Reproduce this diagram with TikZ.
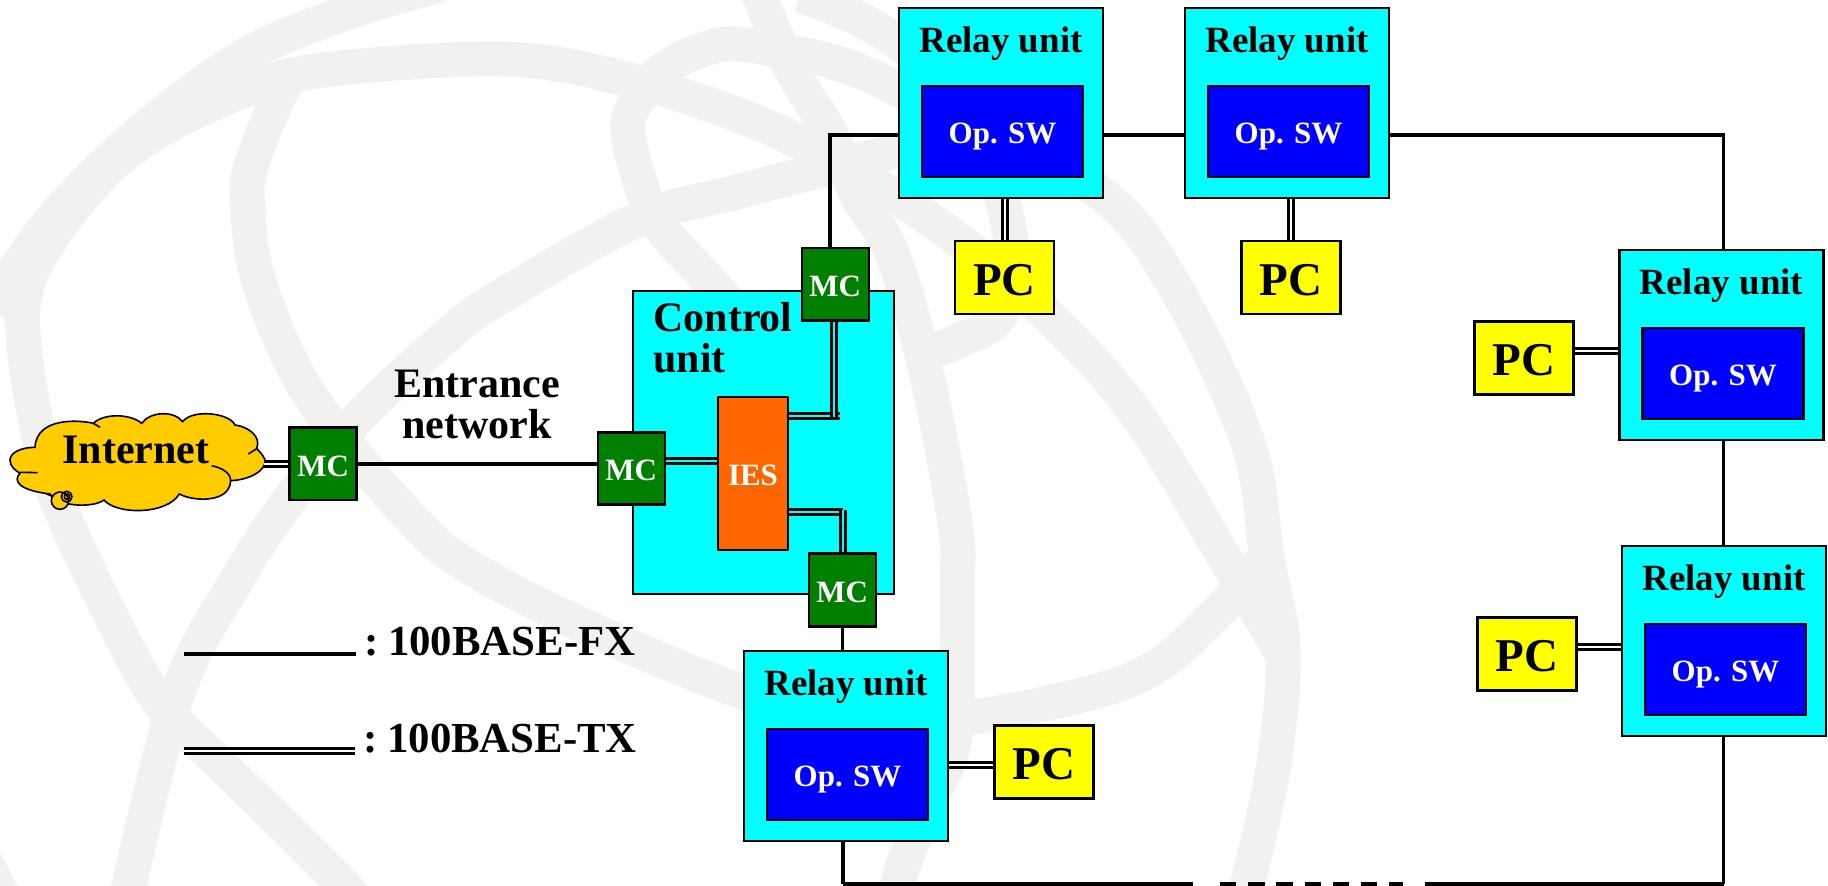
\documentclass[tikz,border=0pt]{standalone}
\usepackage{fontspec}
\setmainfont{Liberation Serif}
\usepackage{xcolor}
\usetikzlibrary{positioning}
\definecolor{wmgrey}{HTML}{F2F1EF}
\definecolor{mcgreen}{HTML}{007F00}
\definecolor{iesorange}{HTML}{FF6600}
\definecolor{cloudgold}{HTML}{FFCC00}
\definecolor{unitcyan}{HTML}{00FFFF}
\definecolor{swblue}{HTML}{0000FF}
\definecolor{pcyellow}{HTML}{FFFF00}

\begin{document}
\begin{tikzpicture}[
  x=0.5pt, y=-0.5pt,
  wm/.style={draw=wmgrey, line width=17.5pt, smooth, tension=0.6},
  relay/.style={draw, fill=unitcyan, line width=1.2pt, minimum width=102pt, minimum height=95pt, inner sep=0pt},
  opsw/.style={draw, fill=swblue, line width=1.2pt, minimum width=80.5pt, minimum height=45.5pt, inner sep=0pt, text=white, font=\fontsize{15.5}{18}\selectfont\bfseries, text height=12.4pt, text depth=0pt},
  title/.style={anchor=base, inner sep=0pt, font=\fontsize{18.5}{22}\selectfont\bfseries},
  pcbox/.style={draw, fill=pcyellow, line width=1.2pt, minimum width=49.5pt, minimum height=36.5pt, inner sep=0pt, font=\fontsize{23.5}{27}\selectfont\bfseries, text height=18pt, text depth=0pt},
  mcbox/.style={draw, fill=mcgreen, line width=1.3pt, minimum width=33.5pt, minimum height=36.25pt, inner sep=0pt, text=white, font=\fontsize{15.5}{18}\selectfont\bfseries, text height=12.4pt, text depth=0pt},
  lbl/.style={inner sep=0pt, font=\fontsize{21}{20.5}\selectfont\bfseries},
  legend/.style={inner sep=0pt, anchor=base west, font=\fontsize{21.4}{24}\selectfont\bfseries},
  fx/.style={line width=1.75pt},
  tx/.style={line width=1.5pt, double=white, double distance=1pt},
  txc/.style={tx, double=unitcyan}
]
\useasboundingbox (0,0) rectangle (1828,886);

\begin{scope}
\clip (0,0) rectangle (1828,886);
\draw[wm] plot coordinates {(440,-15) (340,15) (243,57) (145,128) (62,208) (15,270) (-10,310)};
\draw[wm] plot coordinates {(-16,860) (3,895)};
\draw[wm] plot coordinates {(1280,650) (1223,555) (1135,412) (1042,310) (935,223) (830,158) (733,113) (610,75) (500,59) (333,69) (245,90) (130,150) (50,240) (23,310) (35,417) (60,507) (132,657) (172,717) (230,773) (344,886) (370,920)};
\draw[wm] plot coordinates {(295,70) (277,100) (250,170) (248,207) (255,267) (283,345) (325,417) (413,520) (470,567) (588,628) (740,691) (850,722) (955,720) (1130,680) (1220,610) (1270,550)};
\draw[wm] plot coordinates {(126,900) (178,693) (235,583) (287,503) (353,423) (450,333) (500,297) (637,220) (733,193) (830,168) (900,150)};
\draw[wm] plot coordinates {(790,380) (720,293) (665,233) (647,203) (628,133) (637,100) (660,72) (702,50) (747,45) (857,70) (970,130) (1103,195) (1178,292) (1248,443) (1267,557) (1283,650) (1274,763) (1248,883) (1240,910)};
\draw[wm] plot coordinates {(757,-10) (790,67) (830,133) (858,197) (892,253) (925,367) (955,523) (957,590) (955,735) (930,800) (905,860) (895,895)};
\draw[wm] plot coordinates {(800,-5) (867,23) (930,70) (985,150) (1012,250) (1000,315) (960,340) (915,358)};
\end{scope}

\begin{scope}[shift={(0,390)}, x=1/6*1pt, y=-1/6*1pt]
\draw[fill=cloudgold, line width=0.8pt] (105,172) .. controls (60,172) and (30,190) .. (30,210)
  .. controls (30,230) and (45,240) .. (60,250)
  .. controls (40,270) and (50,300) .. (150,312)
  .. controls (170,350) and (280,355) .. (312,330)
  .. controls (350,375) and (500,375) .. (538,312)
  .. controls (580,335) and (690,340) .. (692,272)
  .. controls (750,270) and (800,240) .. (795,210)
  .. controls (790,195) and (778,185) .. (770,175)
  .. controls (785,140) and (745,110) .. (705,105)
  .. controls (690,70) and (580,55) .. (548,95)
  .. controls (520,60) and (450,65) .. (425,100)
  .. controls (390,70) and (310,70) .. (280,100)
  .. controls (240,90) and (110,80) .. (105,172) -- cycle;
\draw[line width=0.8pt] (60,247) -- (113,248);
\draw[line width=0.8pt] (745,192) -- (772,175);
\draw[line width=0.8pt] (635,227) .. controls (670,235) and (692,250) .. (692,272);
\draw[line width=0.8pt] (280,100) -- (300,112);
\draw[line width=0.8pt] (140,312) -- (165,322);
\draw[fill=cloudgold, line width=0.8pt] (180,332) circle[radius=26];
\draw[line width=0.8pt] (200,320) circle[radius=16];
\draw[line width=0.8pt] (201,320) circle[radius=8];
\end{scope}
\node[title, font=\fontsize{21}{25}\selectfont\bfseries] (internet) at (136,464) {Internet};
\coordinate (cloudr) at (264,464);

\node[draw, fill=unitcyan, line width=1.2pt, minimum width=130.5pt, minimum height=151.4pt, inner sep=0pt] (ctrl) at (763.2,442.4) {};
\node[lbl, anchor=north west, align=left] (ctrltxt) at (653,302) {Control\\unit};
\node[draw, fill=iesorange, line width=1.2pt, minimum width=35pt, minimum height=76.5pt, inner sep=0pt, text=white, font=\fontsize{15.5}{18}\selectfont\bfseries, text height=12.4pt, text depth=0pt] (ies) at (753,473.5) {IES};
\node[mcbox] (mci) at (323.2,463.9) {MC};
\node[mcbox] (mcl) at (631.3,468.5) {MC};
\node[mcbox] (mct) at (835.3,284.3) {MC};
\node[mcbox] (mcb) at (842.3,590) {MC};
\node[lbl, align=center] (entrance) at (477,404) {Entrance\\network};

\node[relay] (ra) at (1001,103) {};
\node[opsw, below=39pt of ra.north, xshift=0.75pt] (oa) {Op. SW};
\node[title] (ta) at ([yshift=-22.8pt]ra.north) {Relay unit};
\node[relay] (rb) at (1287,103) {};
\node[opsw, below=39pt of rb.north, xshift=0.75pt] (ob) {Op. SW};
\node[title] (tb) at ([yshift=-22.8pt]rb.north) {Relay unit};
\node[relay] (rc) at (1721.5,345) {};
\node[opsw, below=39pt of rc.north, xshift=0.75pt] (oc) {Op. SW};
\node[title] (tc) at ([yshift=-22.8pt]rc.north) {Relay unit};
\node[relay] (rd) at (1724,641) {};
\node[opsw, below=39pt of rd.north, xshift=0.75pt] (od) {Op. SW};
\node[title] (td) at ([yshift=-22.8pt]rd.north) {Relay unit};
\node[relay] (re) at (846,746) {};
\node[opsw, below=39pt of re.north, xshift=0.75pt] (oe) {Op. SW};
\node[title] (te) at ([yshift=-22.8pt]re.north) {Relay unit};

\node[pcbox] (pca) at (1004.5,277.5) {PC};
\node[pcbox] (pcb) at (1291,277.5) {PC};
\node[pcbox] (pcc) at (1524,358) {PC};
\node[pcbox] (pcd) at (1527,654) {PC};
\node[pcbox] (pce) at (1044,762) {PC};

\coordinate (blc) at (843,884);
\coordinate (brc) at (1723.5,884);
\coordinate (gapa) at (1193,884);
\coordinate (gapb) at (1220,884);
\coordinate (gapc) at (1403,884);
\coordinate (gapd) at (1425,884);
\coordinate (iesl) at (700,461);
\coordinate (iest) at (840,416.5);
\coordinate (iesb) at (842.5,512);
\coordinate (mctx) at (833.7,416.7);
\coordinate (fxa) at (184,654);
\coordinate (fxb) at (356,654);
\coordinate (txa) at (184,751);
\coordinate (txb) at (355,751);

\draw[tx] (cloudr) -- (mci.west |- cloudr);
\draw[fx] (mci.east) -- (mcl.west |- mci.east);
\draw[txc] (mcl.east |- iesl) -- (ies.west |- iesl);
\draw[txc] (ies.east |- iest) -- (iest);
\draw[txc] (mctx |- mct.south) -- (mctx);
\draw[txc] (ies.east |- iesb) -- (iesb);
\draw[txc] (iesb) ++(0,-2) -- (mcb.north -| iesb);

\draw[fx] ([xshift=-2.7pt]mct.north) |- ([yshift=-16pt]ra.west);
\draw[fx] ([yshift=-16pt]ra.east) -- ([yshift=-16pt]rb.west);
\draw[fx] ([yshift=-16pt]rb.east) -| (brc |- rc.north);
\draw[fx] (brc |- rc.south) -- (brc |- rd.north);
\draw[fx] (brc |- rd.south) -- (brc);
\draw[fx] (mcb.south) -- (mcb.south |- re.north);
\draw[fx] (blc |- re.south) -- (blc);
\draw[fx, line width=2pt] (blc) -- (gapa);
\draw[fx, line width=2pt, dash pattern=on 8.2pt off 5.9pt] (gapb) -- (gapc);
\draw[fx, line width=2pt] (gapd) -- (brc);

\draw[tx] (pca.north) -- (pca.north |- ra.south);
\draw[tx] (pcb.north) -- (pcb.north |- rb.south);
\draw[tx] ([yshift=3.25pt]pcc.east) -- ([yshift=3.25pt]pcc.east -| rc.west);
\draw[tx] ([yshift=3.5pt]pcd.east) -- ([yshift=3.5pt]pcd.east -| rd.west);
\draw[tx] ([yshift=-1.5pt]pce.west) -- ([yshift=-1.5pt]pce.west -| re.east);

\draw[fx, line width=2pt] (fxa) -- (fxb);
\draw[tx] (txa) -- (txb);
\node[legend] (fxtxt) at (364,656) {\spaceskip=3pt\relax : 100BASE-FX};
\node[legend] (txtxt) at (363,752.7) {\spaceskip=3pt\relax : 100BASE-TX};
\end{tikzpicture}
\end{document}
